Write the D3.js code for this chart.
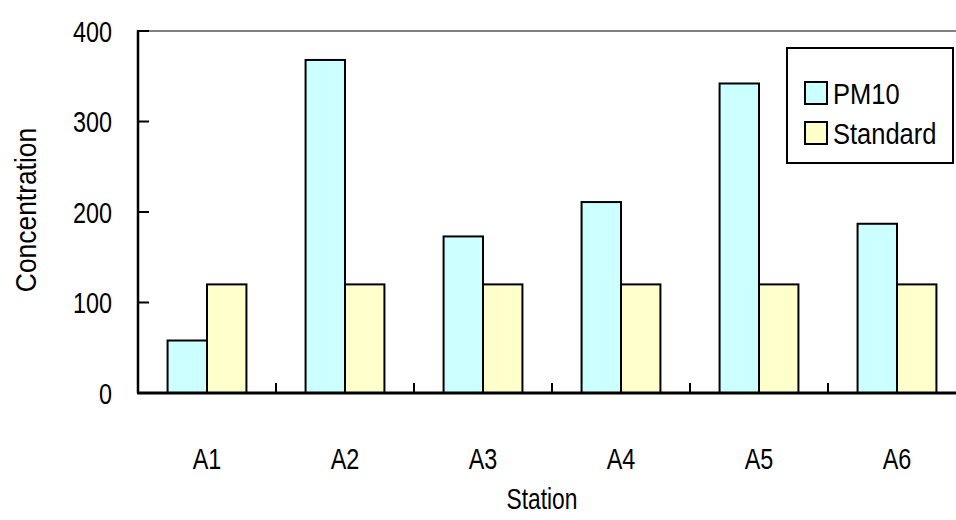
<!DOCTYPE html>
<html>
<head>
<meta charset="utf-8">
<script src="https://cdn.jsdelivr.net/npm/d3@7"></script>
<style>
  html, body { margin: 0; padding: 0; background: #fff; }
  svg text { font-family: "Liberation Sans", Arial, sans-serif; fill: #000; }
</style>
</head>
<body>
<svg id="chart" width="956" height="520"></svg>
<script>
// Station categories and measured concentrations
const stations = ["A1", "A2", "A3", "A4", "A5", "A6"];
const pm10 = [58, 368, 173, 211, 342, 187];
const standard = [120, 120, 120, 120, 120, 120];
const seriesNames = ["PM10", "Standard"];
const seriesColors = ["#CCFFFF", "#FFFFCC"];
const yTicks = [0, 100, 200, 300, 400];

const svg = d3.select("#chart");
const plotLeft = 138, plotTop = 31, plotBottom = 393, band = 138;
const fontSize = 30;

// condensed-looking label: horizontally squeezed text placed at (px, py)
function label(parent, px, py, str, anchor, sx, rotate) {
  return parent.append("text")
    .attr("transform", `translate(${px},${py})` + (rotate ? ` rotate(${rotate})` : "") + ` scale(${sx},1)`)
    .attr("dy", "0.36em")
    .attr("text-anchor", anchor)
    .attr("font-size", fontSize)
    .text(str);
}

const x = d3.scaleBand()
  .domain(stations)
  .range([plotLeft, plotLeft + band * stations.length])
  .paddingInner(0).paddingOuter(0);

const y = d3.scaleLinear().domain([0, 400]).range([plotBottom, plotTop]);

// bars: two per band, gap width 150% of a bar
const barW = x.bandwidth() / 3.5;
const offset = barW * 0.75;
const rows = stations.map((s, i) => ({ s, vals: [pm10[i], standard[i]] }));

// top frame line
svg.append("line")
  .attr("x1", plotLeft).attr("x2", 956)
  .attr("y1", y(400)).attr("y2", y(400))
  .attr("stroke", "#808080").attr("stroke-width", 2);

const g = svg.append("g");
rows.forEach(r => {
  r.vals.forEach((v, k) => {
    g.append("rect")
      .attr("x", x(r.s) + offset + k * barW)
      .attr("y", y(v))
      .attr("width", barW)
      .attr("height", y(0) - y(v))
      .attr("fill", seriesColors[k])
      .attr("stroke", "#000")
      .attr("stroke-width", 2);
  });
});

// y axis
const yAxis = svg.append("g");
yAxis.append("line")
  .attr("x1", plotLeft).attr("x2", plotLeft)
  .attr("y1", y(400) - 1).attr("y2", y(0))
  .attr("stroke", "#000").attr("stroke-width", 2.5);
yTicks.forEach(t => {
  yAxis.append("line")
    .attr("x1", plotLeft).attr("x2", plotLeft + 11)
    .attr("y1", y(t)).attr("y2", y(t))
    .attr("stroke", "#000").attr("stroke-width", 2);
  label(yAxis, 112, y(t), t, "end", 0.78);
});

// x axis
const xAxis = svg.append("g");
xAxis.append("line")
  .attr("x1", plotLeft - 1).attr("x2", 956)
  .attr("y1", y(0)).attr("y2", y(0))
  .attr("stroke", "#000").attr("stroke-width", 3);
stations.forEach((s, i) => {
  if (i > 0) {
    xAxis.append("line")
      .attr("x1", x(s)).attr("x2", x(s))
      .attr("y1", y(0)).attr("y2", y(0) - 10)
      .attr("stroke", "#000").attr("stroke-width", 2);
  }
  label(xAxis, x(s) + x.bandwidth() / 2, 458, s, "middle", 0.78);
});

// axis titles
label(svg, 542, 498, "Station", "middle", 0.76);
label(svg, 25, 210, "Concentration", "middle", 0.88, -90);

// legend
const lg = svg.append("g");
lg.append("rect")
  .attr("x", 787).attr("y", 48)
  .attr("width", 166).attr("height", 115)
  .attr("fill", "#fff").attr("stroke", "#000").attr("stroke-width", 2);
seriesNames.forEach((n, k) => {
  const cy = 93 + k * 40;
  lg.append("rect")
    .attr("x", 805).attr("y", cy - 11)
    .attr("width", 22).attr("height", 22)
    .attr("fill", seriesColors[k]).attr("stroke", "#000").attr("stroke-width", 2);
  label(lg, 833, cy, n, "start", 0.85);
});
</script>
</body>
</html>
